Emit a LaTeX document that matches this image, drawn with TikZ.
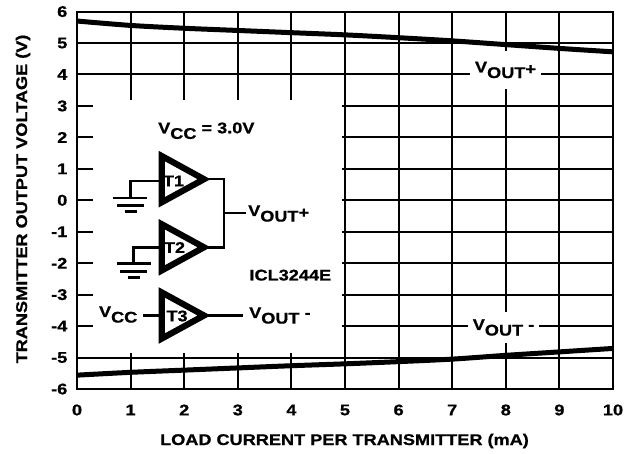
\documentclass[tikz,border=0pt]{standalone}
\usepackage{fontspec}
\setmainfont{Liberation Sans}[FakeStretch=1.17, BoldFeatures={FakeBold=0.8}]
\newcommand{\sbs}[1]{\raisebox{-0.36em}{#1}}
\newcommand{\plusmark}{\raisebox{-0.12em}{+}}
\begin{document}
\begin{tikzpicture}[x=1pt,y=-1pt,
  every node/.style={font=\fontsize{15.5}{16}\selectfont\bfseries, inner sep=0pt},
  gridline/.style={line width=2pt},
  curve/.style={line width=5pt},
  amp/.style={line width=6.2pt, line join=miter},
  wire/.style={line width=2.5pt},
  lbl/.style={fill=white, minimum width=71pt, minimum height=38pt}]
\useasboundingbox (0,0) rectangle (633,454);
% ---------- plot ----------
\begin{scope}[shift={(77,200.3)}, x=53.6pt, y=31.45pt]
  \draw[gridline] (0,-6) rectangle (10,6);
  \foreach \v in {4,5,-5} \draw[gridline] (0,\v) -- (10,\v);
  \foreach \v in {3,2,1,0,-1,-2,-3,-4} {
    \draw[gridline] (0,\v) -- (0.29,\v);
    \draw[gridline] (4.94,\v) -- (10,\v);
  }
  \foreach \i in {1,...,4} {
    \draw[gridline] (\i,6) -- (\i,3.19);
    \draw[gridline] (\i,-4.865) -- (\i,-6);
  }
  \foreach \i in {5,...,9} \draw[gridline] (\i,6) -- (\i,-6);
  \draw[curve] plot[smooth] coordinates {(0,5.70) (1,5.56) (2,5.47) (3,5.40) (4,5.33) (5,5.26) (6,5.17) (7,5.07) (8,4.95) (9,4.83) (10,4.72)};
  \draw[curve] plot[smooth] coordinates {(0,-5.56) (1,-5.47) (2,-5.40) (3,-5.33) (4,-5.26) (5,-5.20) (6,-5.13) (7,-5.05) (8,-4.93) (9,-4.82) (10,-4.71)};
\end{scope}
\node[lbl] (vplus) at (505.5,70) {V\sbs{OUT}\plusmark};
\node[lbl, minimum height=31pt] (vminus) at (503.5,327.5) {V\sbs{OUT} -};
% tick labels
\foreach \i in {0,...,10} \node (xt\i) at ({77+53.6*\i},410) {\i};
\foreach \v in {6,5,4,3,2,1,0,-1,-2,-3,-4,-5,-6} \node[anchor=east] (yt\v) at (67.5,{200.3-31.45*\v}) {\v};
\node (xl) at (344.5,441) {LOAD CURRENT PER TRANSMITTER (mA)};
\node[rotate=90] (yl) at (23,199) {TRANSMITTER OUTPUT VOLTAGE (V)};
% ---------- circuit ----------
\node[anchor=base west] (vcc) at (158,133.3) {V\sbs{CC} = 3.0V};
% T1
\draw[amp] (161.7,156) -- (161.7,202.3) -- (204,179.2) -- cycle;
\node (t1) at (173.5,181) {T1};
\coordinate (t1in) at (161.7,181);
\coordinate (t1out) at (204,179.2);
\coordinate (g1) at (130.3,181);
\coordinate (g1b) at (130.3,198);
\draw[wire] (t1in) -- (g1) -- (g1b);
\draw[wire] (113.3,198) -- (147.3,198);
\draw[wire] (117,205.3) -- (144,205.3);
\draw[wire] (124.5,211.3) -- (136.5,211.3);
% T2
\draw[amp] (161.7,224.2) -- (161.7,270.5) -- (204,247.3) -- cycle;
\node (t2) at (174.5,247.5) {T2};
\coordinate (t2in) at (161.7,247.3);
\coordinate (t2out) at (204,247.3);
\coordinate (g2) at (133.5,247.3);
\coordinate (g2b) at (133.5,263.3);
\draw[wire] (t2in) -- (g2) -- (g2b);
\draw[wire] (116.5,263.3) -- (150.5,263.3);
\draw[wire] (120,271.5) -- (147,271.5);
\draw[wire] (127.5,277.3) -- (139.5,277.3);
% join
\coordinate (j1) at (224,179.2);
\coordinate (j2) at (224,247.3);
\coordinate (jm) at (224,213);
\coordinate (jo) at (246,213);
\draw[wire] (t1out) -- (j1) -- (j2) -- (t2out);
\draw[wire] (jm) -- (jo);
\node[anchor=base west] (vo1) at (248,216) {V\sbs{OUT}\plusmark};
\node[anchor=base west] (icl) at (249.3,280.5) {ICL3244E};
% T3
\draw[amp] (161.7,292.4) -- (161.7,338.6) -- (204,315.5) -- cycle;
\node (t3) at (177,316) {T3};
\coordinate (t3in) at (161.7,315.5);
\coordinate (t3out) at (204,315.5);
\coordinate (t3a) at (143,315.5);
\coordinate (t3b) at (243,315.5);
\draw[wire] (t3a) -- (t3in);
\draw[wire] (t3out) -- (t3b);
\node[anchor=base east] (vcc3) at (137.5,317) {V\sbs{CC}};
\node[anchor=base west] (vo3) at (249,318) {V\sbs{OUT} -};
\end{tikzpicture}
\end{document}
